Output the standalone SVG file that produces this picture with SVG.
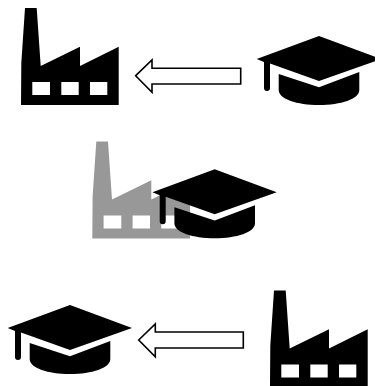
<svg xmlns="http://www.w3.org/2000/svg" width="375" height="386" viewBox="0 0 375 386">
<style>
.arrow{fill:#fff;stroke:#000;stroke-width:1.6;stroke-linejoin:miter}
.win{fill:#fff}
</style>
<defs>
<g id="factory">
<path d="M25 8H36.7L40.7 66L80 46.7V66L118.7 46.7V105H21L21.3 63Z"/>
<rect class="win" x="32.3" y="82" width="17.7" height="13"/>
<rect class="win" x="61.3" y="82" width="17.4" height="13"/>
<rect class="win" x="90" y="82" width="17.3" height="13"/>
</g>
<g id="cap">
<path d="M319 36L381 59L319 81L270 63.5V88a3 3 0 0 1-6 0V62L256.7 59Z"/>
<path d="M278.7 74L319 87.3L359.3 72V90C359.3 99 341 105 319 105C297 105 278.7 99 278.7 90Z"/>
</g>
</defs>
<g id="connectors">
<path class="arrow" d="M135.7 75.7L152 60V68.3H240.7V84H152V92.3Z"/>
<path class="arrow" d="M138.7 340L155.3 324V332H243.3V348H155.3V356.7Z"/>
</g>
<g id="factory-top"><use href="#factory"/></g>
<g id="cap-top"><use href="#cap"/></g>
<g id="factory-middle" opacity="0.4"><use href="#factory" transform="translate(71.3 133.5)"/></g>
<g id="cap-middle"><use href="#cap" transform="translate(-104.3 133.3)"/></g>
<g id="cap-bottom"><use href="#cap" transform="translate(-249 269)"/></g>
<g id="factory-bottom"><use href="#factory" transform="translate(249 282.5)"/></g>
</svg>
